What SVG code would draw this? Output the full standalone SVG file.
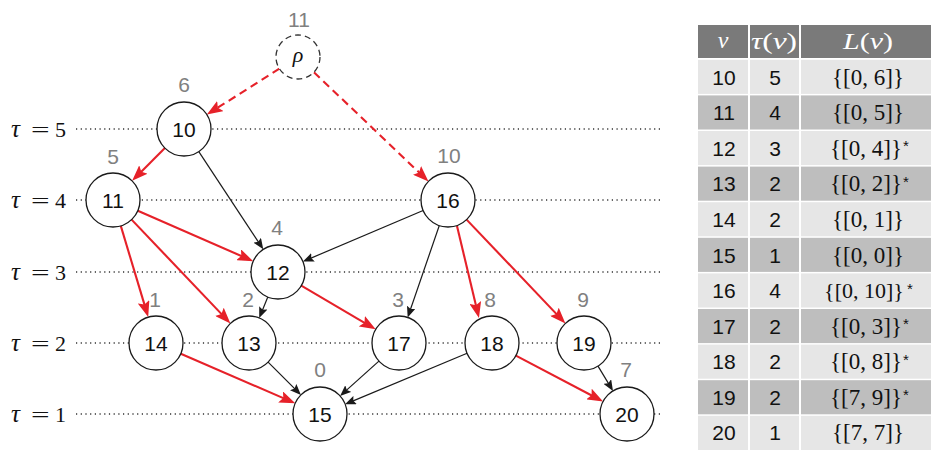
<svg xmlns="http://www.w3.org/2000/svg" width="931" height="450" viewBox="0 0 931 450">
  <defs>
    <marker id="arrRed" markerUnits="userSpaceOnUse" markerWidth="17" markerHeight="12" refX="8" refY="6" orient="auto">
      <path d="M0,0 L16,6 L0,12 L3,6 Z" fill="#e62129"/>
    </marker>
    <marker id="arrBlack" markerUnits="userSpaceOnUse" markerWidth="12" markerHeight="9" refX="6" refY="4.5" orient="auto">
      <path d="M0,0 L11,4.5 L0,9 L2,4.5 Z" fill="#1a1a1a"/>
    </marker>
  </defs>
  <style>
    .level { stroke:#333; stroke-width:1.3; stroke-dasharray:1.2 3.5; fill:none; }
    .tau { font-family:"Liberation Serif", "DejaVu Serif", serif; font-size:22px; fill:#111; }
    .tsym { font-style:italic; font-size:25px; }
    .node circle { fill:#fff; stroke:#1a1a1a; stroke-width:1.3; }
    .node .name { font-family:"Liberation Sans", Arial, sans-serif; font-size:21px; fill:#111; text-anchor:middle; }
    .node .rank { font-family:"Liberation Sans", Arial, sans-serif; font-size:21px; fill:#808080; text-anchor:middle; }
    .red { stroke:#e62129; stroke-width:2.1; fill:none; marker-end:url(#arrRed); }
    .dash { stroke-dasharray:8 5; }
    .blk { stroke:#1a1a1a; stroke-width:1.2; fill:none; marker-end:url(#arrBlack); }
    .hdr { fill:#7a7a7a; }
    .lt { fill:#e6e6e6; }
    .dk { fill:#bebebe; }
    .hd { font-family:"Liberation Serif", "DejaVu Serif", serif; font-size:24px; fill:#fff; text-anchor:middle; }
    .num { font-family:"Liberation Sans", Arial, sans-serif; font-size:21px; fill:#111; text-anchor:middle; }
    .lv { font-family:"Liberation Serif", "DejaVu Serif", serif; font-size:23px; fill:#111; text-anchor:middle; }
    .star { font-family:"Liberation Sans", Arial, sans-serif; font-size:15px; fill:#111; }
  </style>

  <!-- level lines and their labels -->
  <g id="levels">
    <line class="level" x1="76" y1="129" x2="662" y2="129"/>
    <line class="level" x1="76" y1="200" x2="662" y2="200"/>
    <line class="level" x1="76" y1="272" x2="662" y2="272"/>
    <line class="level" x1="76" y1="343" x2="662" y2="343"/>
    <line class="level" x1="76" y1="414" x2="662" y2="414"/>
    <g class="tau">
      <text class="tsym" x="11" y="137">τ</text><text transform="translate(31,137) scale(1.5,1)">=</text><text x="55" y="137">5</text>
      <text class="tsym" x="11" y="208">τ</text><text transform="translate(31,208) scale(1.5,1)">=</text><text x="55" y="208">4</text>
      <text class="tsym" x="11" y="280">τ</text><text transform="translate(31,280) scale(1.5,1)">=</text><text x="55" y="280">3</text>
      <text class="tsym" x="11" y="351">τ</text><text transform="translate(31,351) scale(1.5,1)">=</text><text x="55" y="351">2</text>
      <text class="tsym" x="11" y="422">τ</text><text transform="translate(31,422) scale(1.5,1)">=</text><text x="55" y="422">1</text>
    </g>
  </g>

  <!-- connectors -->
  <g id="edges">
    <line class="red dash" x1="279.4" y1="68.7" x2="213.6" y2="110.3"/>
    <line class="red dash" x1="313.9" y1="72.2" x2="422.7" y2="175.9"/>
    <line class="red" x1="164.9" y1="148.1" x2="137.8" y2="175.2"/>
    <line class="red" x1="137.8" y1="210.8" x2="245.9" y2="258"/>
    <line class="red" x1="120.8" y1="225.9" x2="145.9" y2="309.4"/>
    <line class="red" x1="131.6" y1="219.6" x2="224.9" y2="317.6"/>
    <line class="red" x1="301.3" y1="285.7" x2="368.8" y2="325.3"/>
    <line class="red" x1="457" y1="226" x2="477.1" y2="310.2"/>
    <line class="red" x1="466.6" y1="219.6" x2="559.9" y2="317.6"/>
    <line class="red" x1="180.8" y1="353.7" x2="287.9" y2="400.1"/>
    <line class="red" x1="515.9" y1="355.6" x2="596" y2="397.7"/>
    <line class="blk" x1="198.8" y1="151.6" x2="260.5" y2="245.2"/>
    <line class="blk" x1="423.1" y1="210.5" x2="307.5" y2="259.6"/>
    <line class="blk" x1="439.3" y1="225.5" x2="409.3" y2="312.8"/>
    <line class="blk" x1="267.8" y1="297" x2="261.1" y2="313.4"/>
    <line class="blk" x1="268.1" y1="362.1" x2="297.4" y2="391.4"/>
    <line class="blk" x1="378.9" y1="361.1" x2="343.8" y2="392.6"/>
    <line class="blk" x1="467.1" y1="353.3" x2="349.6" y2="402.4"/>
    <line class="blk" x1="598" y1="366.1" x2="610.4" y2="386.6"/>
  </g>

  <!-- nodes -->
  <g id="rho" class="node">
    <circle cx="298" cy="57" r="22" style="stroke-dasharray:6 4;stroke:#333"/>
    <text x="298" y="62" text-anchor="middle" font-family="Liberation Serif, DejaVu Serif, serif" font-style="italic" font-size="22" fill="#111">ρ</text>
    <text class="rank" x="299" y="27">11</text>
  </g>
  <g id="n10" class="node">
    <circle cx="184" cy="129" r="27"/>
    <text class="name" x="184" y="136.5">10</text>
    <text class="rank" x="184" y="92">6</text>
  </g>
  <g id="n11" class="node">
    <circle cx="113" cy="200" r="27"/>
    <text class="name" x="113" y="207.5">11</text>
    <text class="rank" x="113" y="164">5</text>
  </g>
  <g id="n16" class="node">
    <circle cx="448" cy="200" r="27"/>
    <text class="name" x="448" y="207.5">16</text>
    <text class="rank" x="449" y="163">10</text>
  </g>
  <g id="n12" class="node">
    <circle cx="278" cy="272" r="27"/>
    <text class="name" x="278" y="279.5">12</text>
    <text class="rank" x="277" y="235">4</text>
  </g>
  <g id="n14" class="node">
    <circle cx="156" cy="343" r="27"/>
    <text class="name" x="156" y="350.5">14</text>
    <text class="rank" x="155" y="307">1</text>
  </g>
  <g id="n13" class="node">
    <circle cx="249" cy="343" r="27"/>
    <text class="name" x="249" y="350.5">13</text>
    <text class="rank" x="248" y="307">2</text>
  </g>
  <g id="n17" class="node">
    <circle cx="399" cy="343" r="27"/>
    <text class="name" x="399" y="350.5">17</text>
    <text class="rank" x="398" y="307">3</text>
  </g>
  <g id="n18" class="node">
    <circle cx="492" cy="343" r="27"/>
    <text class="name" x="492" y="350.5">18</text>
    <text class="rank" x="490" y="307">8</text>
  </g>
  <g id="n19" class="node">
    <circle cx="584" cy="343" r="27"/>
    <text class="name" x="584" y="350.5">19</text>
    <text class="rank" x="583" y="307">9</text>
  </g>
  <g id="n15" class="node">
    <circle cx="320" cy="414" r="27"/>
    <text class="name" x="320" y="421.5">15</text>
    <text class="rank" x="320" y="377">0</text>
  </g>
  <g id="n20" class="node">
    <circle cx="627" cy="414" r="27"/>
    <text class="name" x="627" y="421.5">20</text>
    <text class="rank" x="626" y="377">7</text>
  </g>

  <!-- table of v, tau(v), L(v) -->
  <g id="table">
    <rect class="hdr" x="698" y="25" width="50" height="33"/>
    <rect class="hdr" x="750" y="25" width="49" height="33"/>
    <rect class="hdr" x="801" y="25" width="130" height="33"/>
    <text class="hd" x="723" y="48" font-style="italic">v</text>
    <text class="hd" x="774" y="49" textLength="46" lengthAdjust="spacingAndGlyphs"><tspan font-style="italic">τ</tspan>(<tspan font-style="italic">v</tspan>)</text>
    <text class="hd" x="868" y="49" textLength="50" lengthAdjust="spacingAndGlyphs"><tspan font-style="italic">L</tspan>(<tspan font-style="italic">v</tspan>)</text>

    <g id="rows">
      <rect class="lt" x="698" y="59.8" width="50" height="34.1"/><rect class="lt" x="750" y="59.8" width="49" height="34.1"/><rect class="lt" x="801" y="59.8" width="130" height="34.1"/>
      <rect class="dk" x="698" y="95.4" width="50" height="34.1"/><rect class="dk" x="750" y="95.4" width="49" height="34.1"/><rect class="dk" x="801" y="95.4" width="130" height="34.1"/>
      <rect class="lt" x="698" y="131" width="50" height="34.1"/><rect class="lt" x="750" y="131" width="49" height="34.1"/><rect class="lt" x="801" y="131" width="130" height="34.1"/>
      <rect class="dk" x="698" y="166.6" width="50" height="34.1"/><rect class="dk" x="750" y="166.6" width="49" height="34.1"/><rect class="dk" x="801" y="166.6" width="130" height="34.1"/>
      <rect class="lt" x="698" y="202.2" width="50" height="34.1"/><rect class="lt" x="750" y="202.2" width="49" height="34.1"/><rect class="lt" x="801" y="202.2" width="130" height="34.1"/>
      <rect class="dk" x="698" y="237.8" width="50" height="34.1"/><rect class="dk" x="750" y="237.8" width="49" height="34.1"/><rect class="dk" x="801" y="237.8" width="130" height="34.1"/>
      <rect class="lt" x="698" y="273.4" width="50" height="34.1"/><rect class="lt" x="750" y="273.4" width="49" height="34.1"/><rect class="lt" x="801" y="273.4" width="130" height="34.1"/>
      <rect class="dk" x="698" y="309" width="50" height="34.1"/><rect class="dk" x="750" y="309" width="49" height="34.1"/><rect class="dk" x="801" y="309" width="130" height="34.1"/>
      <rect class="lt" x="698" y="344.6" width="50" height="34.1"/><rect class="lt" x="750" y="344.6" width="49" height="34.1"/><rect class="lt" x="801" y="344.6" width="130" height="34.1"/>
      <rect class="dk" x="698" y="380.2" width="50" height="34.1"/><rect class="dk" x="750" y="380.2" width="49" height="34.1"/><rect class="dk" x="801" y="380.2" width="130" height="34.1"/>
      <rect class="lt" x="698" y="415.8" width="50" height="36"/><rect class="lt" x="750" y="415.8" width="49" height="36"/><rect class="lt" x="801" y="415.8" width="130" height="36"/>
    </g>

    <g id="cells">
      <text class="num" x="724" y="84.5">10</text><text class="num" x="775" y="84.5">5</text>
      <text class="lv" x="868" y="84.5">{[0, 6]}</text>
      <text class="num" x="724" y="120">11</text><text class="num" x="775" y="120">4</text>
      <text class="lv" x="868" y="120">{[0, 5]}</text>
      <text class="num" x="724" y="155.5">12</text><text class="num" x="775" y="155.5">3</text>
      <text class="lv" x="866" y="155.5">{[0, 4]}</text><text class="star" x="903" y="151">*</text>
      <text class="num" x="724" y="191">13</text><text class="num" x="775" y="191">2</text>
      <text class="lv" x="866" y="191">{[0, 2]}</text><text class="star" x="903" y="186.5">*</text>
      <text class="num" x="724" y="227">14</text><text class="num" x="775" y="227">2</text>
      <text class="lv" x="868" y="227">{[0, 1]}</text>
      <text class="num" x="724" y="262.5">15</text><text class="num" x="775" y="262.5">1</text>
      <text class="lv" x="868" y="262.5">{[0, 0]}</text>
      <text class="num" x="724" y="298">16</text><text class="num" x="775" y="298">4</text>
      <text class="lv" x="864" y="298" style="font-size:22px">{[0, 10]}</text><text class="star" x="907" y="293.5">*</text>
      <text class="num" x="724" y="333.5">17</text><text class="num" x="775" y="333.5">2</text>
      <text class="lv" x="866" y="333.5">{[0, 3]}</text><text class="star" x="903" y="329">*</text>
      <text class="num" x="724" y="369">18</text><text class="num" x="775" y="369">2</text>
      <text class="lv" x="866" y="369">{[0, 8]}</text><text class="star" x="903" y="364.5">*</text>
      <text class="num" x="724" y="404.5">19</text><text class="num" x="775" y="404.5">2</text>
      <text class="lv" x="866" y="404.5">{[7, 9]}</text><text class="star" x="903" y="400">*</text>
      <text class="num" x="724" y="440">20</text><text class="num" x="775" y="440">1</text>
      <text class="lv" x="868" y="440">{[7, 7]}</text>
    </g>
  </g>
</svg>
